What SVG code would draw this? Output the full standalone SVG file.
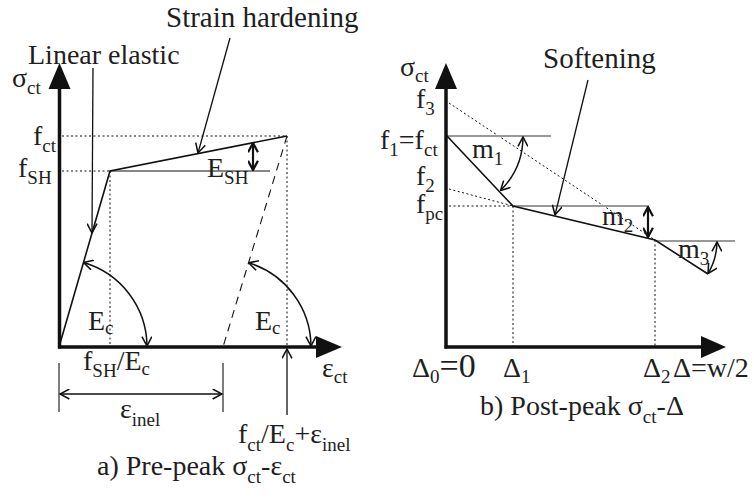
<svg xmlns="http://www.w3.org/2000/svg" width="754" height="499" viewBox="0 0 754 499">
<style>
text{font-family:"Liberation Serif","Times New Roman",serif;font-size:28px;fill:#1e1e1e}
.s{font-size:19px}
.big{font-size:34px}
.ax{stroke:#111;stroke-width:3.5;fill:none}
.ah{fill:#111}
.ln{stroke:#111;stroke-width:1.6;fill:none}
.th{stroke:#111;stroke-width:1.1;fill:none}
.gr{stroke:#999;stroke-width:1.8;fill:none}
.dot{stroke:#111;stroke-width:1;stroke-dasharray:2,2.5;fill:none}
.dash{stroke:#111;stroke-width:1.1;stroke-dasharray:8,6;fill:none}
.arr{stroke:#111;stroke-width:1.3;fill:none;marker-end:url(#v)}
.dbl{stroke:#111;stroke-width:1.5;fill:none;marker-start:url(#v);marker-end:url(#v)}
.dblb{stroke:#111;stroke-width:2.2;fill:none;marker-start:url(#vb);marker-end:url(#vb)}
</style>
<defs>
<marker id="v" viewBox="0 0 10 10" refX="9.5" refY="5" markerWidth="11" markerHeight="11" markerUnits="userSpaceOnUse" orient="auto-start-reverse">
<path d="M1,0.5 L9.5,5 L1,9.5" fill="none" stroke="#111" stroke-width="1.4"/>
</marker>
<marker id="vb" viewBox="0 0 10 10" refX="9.5" refY="5" markerWidth="11" markerHeight="11" markerUnits="userSpaceOnUse" orient="auto-start-reverse">
<path d="M1,0.5 L9.5,5 L1,9.5" fill="none" stroke="#111" stroke-width="2"/>
</marker>
</defs>
<rect width="754" height="499" fill="#fff"/>

<g id="panel-a">
  <g id="a-guides">
    <line class="dot" x1="62" y1="136" x2="287" y2="136"/>
    <line class="dot" x1="62" y1="171" x2="110" y2="171"/>
    <line class="dot" x1="110" y1="171" x2="110" y2="347"/>
    <line class="dot" x1="287" y1="136" x2="287" y2="347"/>
    <line class="dash" x1="287" y1="136" x2="223" y2="347"/>
  </g>
  <g id="a-curve">
    <polyline class="ln" points="59,347 110,171 287,136"/>
    <line class="th" x1="110" y1="171" x2="270" y2="171"/>
  </g>
  <g id="a-axes">
    <line class="ax" x1="59.5" y1="348.5" x2="59.5" y2="86"/>
    <polygon class="ah" points="59.5,63 48.5,89 70.5,89"/>
    <line class="ax" x1="58" y1="347" x2="318" y2="347"/>
    <polygon class="ah" points="342,347 316,336 316,358"/>
  </g>
  <g id="a-labels">
    <text x="12" y="87">σ<tspan class="s" dy="7">ct</tspan></text>
    <text x="33" y="145">f<tspan class="s" dy="7">ct</tspan></text>
    <text x="18" y="177">f<tspan class="s" dy="7">SH</tspan></text>
    <text x="207" y="177">E<tspan class="s" dy="7">SH</tspan></text>
    <text x="88" y="330">E<tspan class="s" dy="4">c</tspan></text>
    <text x="255" y="330">E<tspan class="s" dy="4">c</tspan></text>
    <text x="83" y="370">f<tspan class="s" dy="7">SH</tspan><tspan dy="-7">/E</tspan><tspan class="s" dy="5">c</tspan></text>
    <text x="120" y="418">ε<tspan class="s" dy="8">inel</tspan></text>
    <text x="322" y="377">ε<tspan class="s" dy="6">ct</tspan></text>
    <text x="238" y="443">f<tspan class="s" dy="8">ct</tspan><tspan dy="-8">/E</tspan><tspan class="s" dy="8">c</tspan><tspan dy="-8">+ε</tspan><tspan class="s" dy="8">inel</tspan></text>
    <text x="97" y="475">a) Pre-peak σ<tspan class="s" dy="8">ct</tspan><tspan dy="-8">-ε</tspan><tspan class="s" dy="8">ct</tspan></text>
    <text x="28" y="64">Linear elastic</text>
    <text x="166" y="27" style="font-size:29px">Strain hardening</text>
  </g>
</g>

<g id="panel-b">
  <g id="b-guides">
    <line class="dot" x1="449" y1="103" x2="655" y2="240"/>
    <line class="dot" x1="449" y1="189" x2="513" y2="206"/>
    <line class="dot" x1="449" y1="206" x2="513" y2="206"/>
    <line class="dot" x1="513" y1="206" x2="513" y2="347"/>
    <line class="dot" x1="655" y1="240" x2="655" y2="347"/>
    <line class="gr" x1="447" y1="136" x2="551" y2="136"/>
    <line class="gr" x1="513" y1="206" x2="649" y2="206"/>
    <line class="gr" x1="655" y1="241" x2="735" y2="241"/>
  </g>
  <g id="b-curve">
    <polyline class="ln" points="447,136 513,206 655,240 708,274"/>
  </g>
  <g id="b-axes">
    <line class="ax" x1="446" y1="348.5" x2="446" y2="86"/>
    <polygon class="ah" points="446,63 435,89 457,89"/>
    <line class="ax" x1="444.5" y1="347" x2="703" y2="347"/>
    <polygon class="ah" points="726,347 701,336 701,358"/>
  </g>
  <g id="b-labels">
    <text x="400" y="76">σ<tspan class="s" dy="6">ct</tspan></text>
    <text x="416" y="108">f<tspan class="s" dy="7">3</tspan></text>
    <text x="380" y="149">f<tspan class="s" dy="7">1</tspan><tspan dy="-7">=f</tspan><tspan class="s" dy="7">ct</tspan></text>
    <text x="416" y="185">f<tspan class="s" dy="7">2</tspan></text>
    <text x="416" y="213">f<tspan class="s" dy="7">pc</tspan></text>
    <text x="472" y="158">m<tspan class="s" dy="7">1</tspan></text>
    <text x="602" y="225">m<tspan class="s" dy="7">2</tspan></text>
    <text x="678" y="258">m<tspan class="s" dy="7">3</tspan></text>
    <text x="412" y="377">Δ<tspan class="s" dy="6">0</tspan><tspan class="big" dy="-6">=0</tspan></text>
    <text x="503" y="377">Δ<tspan class="s" dy="6">1</tspan></text>
    <text x="643" y="377">Δ<tspan class="s" dy="6">2</tspan></text>
    <text x="673" y="377">Δ=w/2</text>
    <text x="480" y="415">b) Post-peak σ<tspan class="s" dy="8">ct</tspan><tspan dy="-8">-Δ</tspan></text>
    <text x="543" y="68" style="font-size:29px">Softening</text>
  </g>
</g>

<g id="connectors">
  <line class="arr" x1="93" y1="68" x2="92" y2="233"/>
  <line class="arr" x1="230" y1="38" x2="198" y2="153"/>
  <line class="arr" x1="588" y1="80" x2="555" y2="215"/>
  <line class="dblb" x1="253" y1="143" x2="253" y2="170"/>
  <line class="dblb" x1="648" y1="207" x2="648" y2="237"/>
  <path class="dbl" d="M83.5,262.5 A88,88 0 0 1 147,346"/>
  <path class="dbl" d="M248.6,262.8 A88,88 0 0 1 311,346"/>
  <path class="dbl" d="M523,137 A76,76 0 0 1 500.5,190.5"/>
  <path class="dbl" d="M717,242 A62,62 0 0 1 708,273.5"/>
  <line class="th" x1="59" y1="363" x2="59" y2="412"/>
  <line class="th" x1="223" y1="363" x2="223" y2="412"/>
  <line class="dbl" x1="60" y1="394" x2="222" y2="394"/>
  <line class="arr" x1="287" y1="415" x2="287" y2="349"/>
</g>
</svg>
